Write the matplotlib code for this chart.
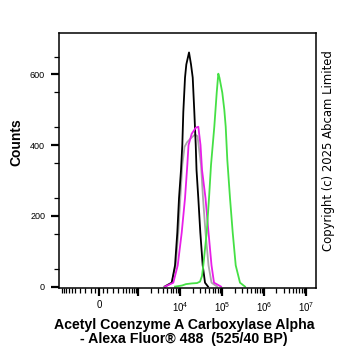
import numpy as np
import matplotlib
matplotlib.use("Agg")
import matplotlib.pyplot as plt
from matplotlib.ticker import FixedLocator, FixedFormatter

plt.rcParams["font.family"] = ["Liberation Sans", "DejaVu Sans"]
plt.rcParams["mathtext.default"] = "regular"

# ───── colours ─────
BLACK = "#000000"
GREY = "#a8a8a8"
MAGENTA = "#e81ee8"
GREEN = "#45e045"

# ───── data (fluorescence intensity, counts) ─────
black_x = [4394, 6346, 7610, 8635, 9480, 10580, 11365, 12007, 13183, 14158, 16426,
           18334, 20125, 21981, 23740, 24800, 27369, 30550, 34850, 39554, 46638]
black_y = [0, 11, 60, 153, 250, 330, 401, 494, 591, 628, 662,
           628, 591, 494, 401, 330, 250, 153, 60, 11, 0]

grey_x = [4159, 6346, 7907, 9124, 10181, 11365, 12823, 14717, 18334, 22843, 26200,
          28445, 31747, 35430, 40654, 47942, 56542, 76460]
grey_y = [0, 11, 60, 153, 250, 344, 395, 408, 420, 430, 425,
          390, 344, 250, 153, 60, 11, 0]

magenta_x = [4394, 6931, 8828, 11000, 13183, 14960, 15983, 19052, 23740, 27369,
             30893, 33540, 40654, 47942, 56542, 64850, 95260]
magenta_y = [0, 11, 60, 153, 250, 344, 400, 432, 449, 452,
             400, 330, 250, 153, 60, 11, 0]

green_x = [7610, 11180, 13926, 19364, 25492, 30058, 33540, 36023, 43420, 49275, 55003,
           65917, 75200, 82140, 87720, 102300, 114200, 123300, 134700, 156200, 181100,
           213700, 270600, 356100]
green_y = [0, 3, 7, 9, 10, 14, 30, 60, 153, 250, 344,
           452, 548, 602, 590, 548, 500, 452, 358, 250, 153,
           60, 11, 0]

x_major = [0, 1e3, 1e4, 1e5, 1e6, 1e7]
x_major_labels = ["0", "", "$10^4$", "$10^5$", "$10^6$", "$10^7$"]
y_major = [0, 200, 400, 600]

# ───── biexponential-like x scale ─────
W = 234.0


def fwd(x):
    return np.arcsinh(np.asarray(x, dtype=float) / W)


def inv(y):
    return W * np.sinh(y)


fig = plt.figure(figsize=(3.62, 3.51), dpi=100, facecolor="white")
ax = fig.add_axes([59 / 362, 1 - 288 / 351, 257 / 362, 255 / 351])

ax.plot(grey_x, grey_y, color=GREY, lw=1.3)
ax.plot(black_x, black_y, color=BLACK, lw=1.3)
ax.plot(magenta_x, magenta_y, color=MAGENTA, lw=1.3)
ax.plot(green_x, green_y, color=GREEN, lw=1.3)

ax.set_xscale("function", functions=(fwd, inv))
ax.set_xlim(-1042, 1.76e7)
ax.set_ylim(-4, 717)

# ticks
minor = [-k * 100 for k in range(2, 10)] + [-100, -50, 50, 100]
for p in [100, 1000, 1e4, 1e5, 1e6]:
    for k in range(2, 10):
        minor.append(k * p)
ax.xaxis.set_major_locator(FixedLocator(x_major))
ax.xaxis.set_major_formatter(FixedFormatter(x_major_labels))
ax.xaxis.set_minor_locator(FixedLocator(minor))

ax.yaxis.set_major_locator(FixedLocator(y_major))
ax.yaxis.set_minor_locator(FixedLocator(np.arange(50, 717, 100)))

ax.tick_params(which="major", direction="out", length=6, width=1.6, pad=4)
ax.tick_params(which="minor", direction="out", length=3.5, width=0.9)
ax.tick_params(axis="y", which="major", labelsize=6.5)
ax.tick_params(axis="x", which="major", labelsize=7, pad=3)
for s in ax.spines.values():
    s.set_linewidth(1.1)

# ───── labels ─────
fig.text(16 / 362, 1 - 142 / 351, "Counts", rotation=90, fontsize=10,
         fontweight="bold", ha="center", va="center")
fig.text(184 / 362, 1 - 324.5 / 351, "Acetyl Coenzyme A Carboxylase Alpha",
         fontsize=10.2, fontweight="bold", ha="center", va="center")
fig.text(184 / 362, 1 - 339.5 / 351, "- Alexa Fluor\u00ae 488  (525/40 BP)",
         fontsize=10.2, fontweight="bold", ha="center", va="center")
fig.text(328.5 / 362, 1 - 151 / 351, "Copyright (c) 2025 Abcam Limited",
         rotation=90, fontsize=8.4, family="DejaVu Sans", ha="center", va="center")

fig.savefig("out.png", dpi=100, facecolor="white")
